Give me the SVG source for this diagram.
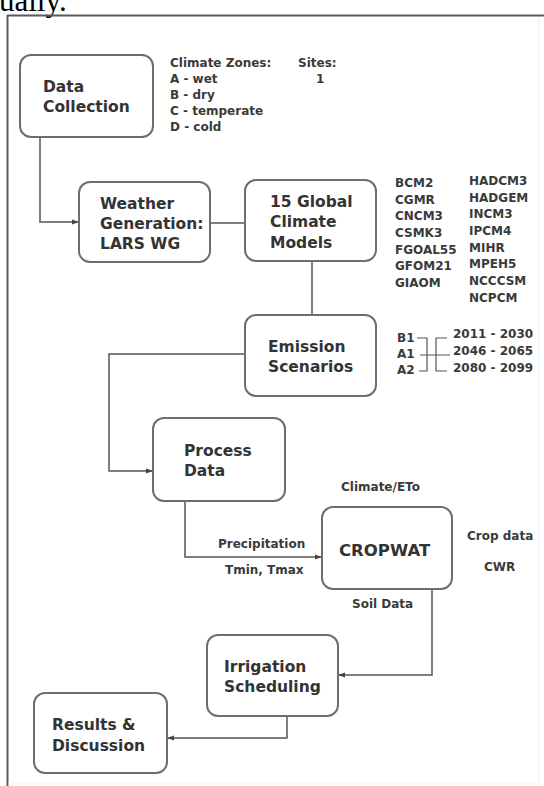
<svg xmlns="http://www.w3.org/2000/svg" width="544" height="786" viewBox="0 0 544 786">
<style>
.box{fill:#fff;stroke:#6e6e6e;stroke-width:2}
.nt{font-family:"DejaVu Sans",sans-serif;font-weight:bold;font-size:15.5px;fill:#333}
.lb{font-family:"DejaVu Sans",sans-serif;font-weight:bold;font-size:12px;fill:#3a3a3a}
.ln{fill:none;stroke:#555;stroke-width:1.5}
.br{fill:none;stroke:#555;stroke-width:1.2}
</style>
<defs>
<marker id="arr" markerWidth="7" markerHeight="6" refX="7" refY="3" orient="auto" markerUnits="userSpaceOnUse">
<path d="M0,0.5 L7,3 L0,5.5 z" fill="#444"/>
</marker>
</defs>
<rect x="0" y="0" width="544" height="786" fill="#fff"/>
<text x="-1" y="11" font-family="Liberation Serif, serif" font-size="31" fill="#000">ually.</text>
<g id="frame">
<line x1="7" y1="15.5" x2="544" y2="15.5" stroke="#5a5a5a" stroke-width="2"/>
<line x1="7.5" y1="15" x2="7.5" y2="786" stroke="#5a5a5a" stroke-width="2"/>
<line x1="539" y1="17" x2="539" y2="784" stroke="#eeeeee" stroke-width="1"/>
<line x1="8" y1="784" x2="539" y2="784" stroke="#f0f0f0" stroke-width="1"/>
</g>
<g id="connectors">
<path class="ln" d="M40,137 V222 H79" marker-end="url(#arr)"/>
<path class="ln" d="M210,223 H245"/>
<path class="ln" d="M312,261 V315"/>
<path class="ln" d="M245,354 H109 V471 H153" marker-end="url(#arr)"/>
<path class="ln" d="M185,501 V557 H322" marker-end="url(#arr)"/>
<path class="ln" d="M432,589 V675 H338" marker-end="url(#arr)"/>
<path class="ln" d="M287,716 V738 H167" marker-end="url(#arr)"/>
</g>
<g id="data-collection">
<rect class="box" x="20" y="55" width="133" height="82" rx="11"/>
<text class="nt" x="43" y="92">Data</text>
<text class="nt" x="43" y="112">Collection</text>
</g>
<g id="climate-zones">
<text class="lb" x="170" y="67">Climate Zones:</text>
<text class="lb" x="170" y="83">A - wet</text>
<text class="lb" x="170" y="99">B - dry</text>
<text class="lb" x="170" y="115">C - temperate</text>
<text class="lb" x="170" y="131">D - cold</text>
</g>
<g id="sites">
<text class="lb" x="298" y="67">Sites:</text>
<text class="lb" x="316" y="83">1</text>
</g>
<g id="weather-generation">
<rect class="box" x="79" y="182" width="131" height="80" rx="11"/>
<text class="nt" x="100" y="209">Weather</text>
<text class="nt" x="100" y="229">Generation:</text>
<text class="nt" x="100" y="249">LARS WG</text>
</g>
<g id="global-climate-models">
<rect class="box" x="245" y="180" width="131" height="81" rx="11"/>
<text class="nt" x="270" y="207">15 Global</text>
<text class="nt" x="270" y="227">Climate</text>
<text class="nt" x="270" y="248">Models</text>
</g>
<g id="model-list">
<text class="lb" x="395" y="187">BCM2</text>
<text class="lb" x="395" y="204">CGMR</text>
<text class="lb" x="395" y="220">CNCM3</text>
<text class="lb" x="395" y="237">CSMK3</text>
<text class="lb" x="395" y="254">FGOAL55</text>
<text class="lb" x="395" y="270">GFOM21</text>
<text class="lb" x="395" y="287">GIAOM</text>
<text class="lb" x="469" y="185">HADCM3</text>
<text class="lb" x="469" y="202">HADGEM</text>
<text class="lb" x="469" y="218">INCM3</text>
<text class="lb" x="469" y="235">IPCM4</text>
<text class="lb" x="469" y="252">MIHR</text>
<text class="lb" x="469" y="268">MPEH5</text>
<text class="lb" x="469" y="285">NCCCSM</text>
<text class="lb" x="469" y="302">NCPCM</text>
</g>
<g id="emission-scenarios">
<rect class="box" x="245" y="315" width="131" height="81" rx="11"/>
<text class="nt" x="268" y="352">Emission</text>
<text class="nt" x="268" y="372">Scenarios</text>
</g>
<g id="scenario-periods">
<text class="lb" x="397" y="342">B1</text>
<text class="lb" x="397" y="358">A1</text>
<text class="lb" x="397" y="374">A2</text>
<path class="br" d="M417,338 H427 V371 H419 M420,355 H450 M447,338 H436 V371 H447"/>
<text class="lb" x="453" y="338">2011 - 2030</text>
<text class="lb" x="453" y="355">2046 - 2065</text>
<text class="lb" x="453" y="372">2080 - 2099</text>
</g>
<g id="process-data">
<rect class="box" x="153" y="418" width="132" height="83" rx="11"/>
<text class="nt" x="184" y="456">Process</text>
<text class="nt" x="184" y="476">Data</text>
</g>
<g id="cropwat">
<rect class="box" x="322" y="507" width="130" height="82" rx="11"/>
<text class="nt" x="339" y="556" style="font-size:16.5px">CROPWAT</text>
</g>
<g id="cropwat-labels">
<text class="lb" x="341" y="491">Climate/ETo</text>
<text class="lb" x="218" y="548">Precipitation</text>
<text class="lb" x="225" y="574">Tmin, Tmax</text>
<text class="lb" x="467" y="540">Crop data</text>
<text class="lb" x="484" y="571">CWR</text>
<text class="lb" x="352" y="608">Soil Data</text>
</g>
<g id="irrigation-scheduling">
<rect class="box" x="207" y="635" width="131" height="81" rx="11"/>
<text class="nt" x="224" y="672">Irrigation</text>
<text class="nt" x="224" y="692">Scheduling</text>
</g>
<g id="results-discussion">
<rect class="box" x="34" y="693" width="133" height="80" rx="11"/>
<text class="nt" x="52" y="730">Results &amp;</text>
<text class="nt" x="52" y="751">Discussion</text>
</g>
</svg>
